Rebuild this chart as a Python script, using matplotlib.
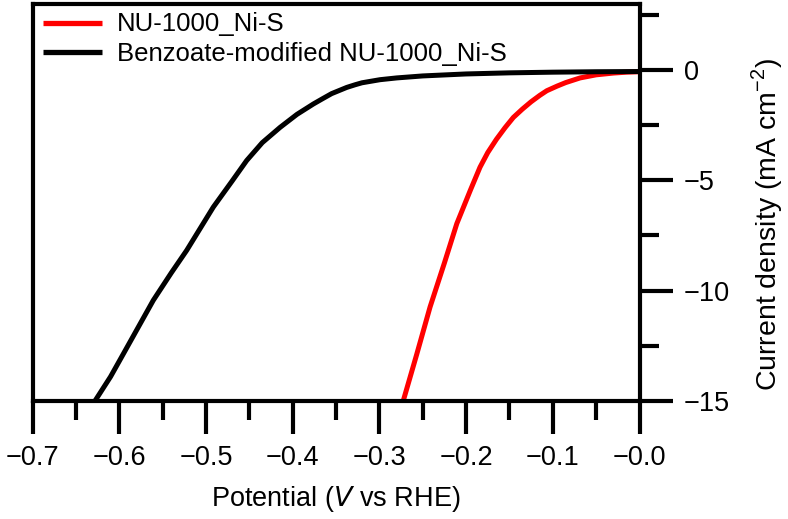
import matplotlib
matplotlib.use("Agg")
import matplotlib.pyplot as plt
from matplotlib.ticker import MultipleLocator, FuncFormatter

plt.rcParams['font.family'] = ['Liberation Sans', 'DejaVu Sans']

# Data
red_label = "NU-1000_Ni-S"
red_v = [-0.2725, -0.257, -0.2415, -0.225, -0.2107, -0.195, -0.1839, -0.175, -0.165,
         -0.155, -0.1455, -0.135, -0.125, -0.115, -0.1069, -0.095, -0.085, -0.0685,
         -0.05, -0.0301, -0.015, 0.0]
red_j = [-15.0, -12.9, -10.74, -8.75, -6.97, -5.45, -4.41, -3.75, -3.15,
         -2.62, -2.16, -1.78, -1.45, -1.16, -0.95, -0.74, -0.58, -0.37,
         -0.23, -0.15, -0.11, -0.09]

black_label = "Benzoate-modified NU-1000_Ni-S"
black_v = [-0.628, -0.61, -0.595, -0.5607, -0.54, -0.5222, -0.4915, -0.47, -0.453,
           -0.435, -0.4145, -0.395, -0.3761, -0.365, -0.355, -0.3376, -0.328, -0.32,
           -0.2992, -0.28, -0.25, -0.2, -0.15, -0.1, -0.05, 0.0]
black_j = [-15.0, -13.9, -12.85, -10.44, -9.2, -8.18, -6.22, -5.05, -4.11,
           -3.3, -2.61, -2.02, -1.55, -1.3, -1.08, -0.80, -0.68, -0.59,
           -0.45, -0.37, -0.28, -0.19, -0.14, -0.11, -0.09, -0.08]

x_ticks = [-0.7, -0.6, -0.5, -0.4, -0.3, -0.2, -0.1, 0.0]
y_ticks = [0, -5, -10, -15]

W, H = 788, 519
fig = plt.figure(figsize=(W / 100, H / 100), dpi=100)
left, right, top, bottom = 32.5, 639.5, 3.5, 401.0
ax = fig.add_axes([left / W, 1 - bottom / H, (right - left) / W, (bottom - top) / H])

ax.plot(red_v, red_j, color='#ff0000', lw=3.6, label=red_label, solid_capstyle='butt')
ax.plot(black_v, black_j, color='black', lw=3.6, label=black_label, solid_capstyle='butt')

ax.set_xlim(-0.7, 0.0)
ax.set_ylim(-15, 3)

for s in ax.spines.values():
    s.set_linewidth(3.0)

ax.set_xticks(x_ticks)
ax.xaxis.set_minor_locator(MultipleLocator(0.05))
ax.xaxis.set_major_formatter(FuncFormatter(lambda v, p: "\u2212%.1f" % abs(v)))

ax.yaxis.tick_right()
ax.yaxis.set_label_position('right')
ax.set_yticks(y_ticks)
ax.yaxis.set_minor_locator(MultipleLocator(2.5))
ax.yaxis.set_major_formatter(FuncFormatter(lambda v, p: ("\u2212%d" % abs(v)) if v < 0 else "%d" % v))

ax.tick_params(which='major', direction='out', length=24, width=3.0, labelsize=19.5, pad=8)
ax.tick_params(which='minor', direction='out', length=13.5, width=3.0)
ax.tick_params(axis='y', which='both', left=False, right=True, labelleft=False, labelright=True)

ax.set_xlabel("Potential ($\\it{V}$ vs RHE)", fontsize=19.5, labelpad=9)
ax.set_ylabel("Current density (mA cm$^{\\mathregular{\u22122}}$)", fontsize=20.5, rotation=90)
ax.yaxis.set_label_coords(1.181, 0.443)

leg = ax.legend(loc='upper left', bbox_to_anchor=(10 / 607, 1 - 9 / 397.5), frameon=False,
                fontsize=18.5, handlelength=2.33, handletextpad=0.58, labelspacing=0.2,
                borderpad=0, borderaxespad=0)
for l in leg.get_lines():
    l.set_linewidth(3.8)

fig.savefig("out.png", dpi=100)
